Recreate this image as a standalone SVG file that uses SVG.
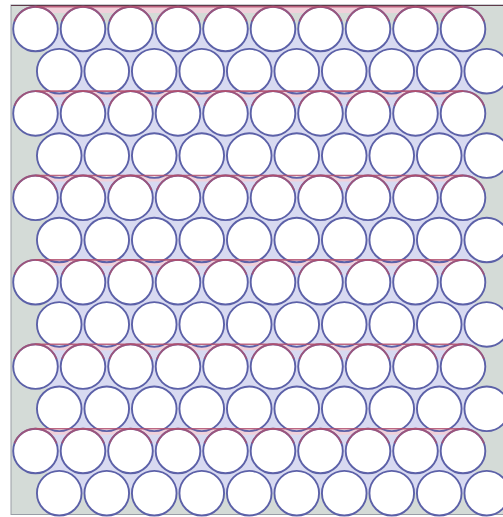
<svg xmlns="http://www.w3.org/2000/svg" xmlns:xlink="http://www.w3.org/1999/xlink" width="503" height="517" viewBox="0 0 503 517">
<style>
.bg{fill:#d4dbd7;stroke:#9a9ea6;stroke-width:1}
.gap{fill:#d8daf1}
.band{fill:#f0d0da}
.cir{fill:#ffffff;stroke:#5c61a8;stroke-width:1.9}
.arc{fill:none;stroke:#b0506e;stroke-width:1.9;stroke-opacity:0.75}
.red{stroke:#b24d6c;stroke-width:1.6;stroke-opacity:0.85}
</style>
<defs>
<circle id="c" r="22.3" class="cir"/>
<path id="a" d="M-20.95,-7.63 A22.3,22.3 0 0 1 20.95,-7.63" class="arc"/>
<g id="oddrow">
<use xlink:href="#c" x="0"/><use xlink:href="#c" x="47.5"/><use xlink:href="#c" x="95"/><use xlink:href="#c" x="142.5"/><use xlink:href="#c" x="190"/><use xlink:href="#c" x="237.5"/><use xlink:href="#c" x="285"/><use xlink:href="#c" x="332.5"/><use xlink:href="#c" x="380"/><use xlink:href="#c" x="427.5"/>
<use xlink:href="#a" x="0"/><use xlink:href="#a" x="47.5"/><use xlink:href="#a" x="95"/><use xlink:href="#a" x="142.5"/><use xlink:href="#a" x="190"/><use xlink:href="#a" x="237.5"/><use xlink:href="#a" x="285"/><use xlink:href="#a" x="332.5"/><use xlink:href="#a" x="380"/><use xlink:href="#a" x="427.5"/>
<line x1="0" y1="-22.3" x2="427.5" y2="-22.3" class="red"/>
</g>
<g id="evenrow">
<use xlink:href="#c" x="0"/><use xlink:href="#c" x="47.5"/><use xlink:href="#c" x="95"/><use xlink:href="#c" x="142.5"/><use xlink:href="#c" x="190"/><use xlink:href="#c" x="237.5"/><use xlink:href="#c" x="285"/><use xlink:href="#c" x="332.5"/><use xlink:href="#c" x="380"/><use xlink:href="#c" x="427.5"/>
</g>
<rect id="b" x="0" y="-22.3" width="427.5" height="6" class="band"/>
</defs>
<rect x="11" y="5" width="493" height="509.5" class="bg"/>
<line x1="11" y1="5.5" x2="503" y2="5.5" stroke="#5e3a4a" stroke-width="1.2"/>
<polygon class="gap" points="35.5,29 59.25,71.2 35.5,113.4 59.25,155.6 35.5,197.8 59.25,240 35.5,282.2 59.25,324.4 35.5,366.6 59.25,408.8 35.5,451 59.25,493.2 486.75,493.2 463,451 486.75,408.8 463,366.6 486.75,324.4 463,282.2 486.75,240 463,197.8 486.75,155.6 463,113.4 486.75,71.2 463,29"/>
<rect x="35.5" y="6" width="427.5" height="7" class="band"/>
<use xlink:href="#b" x="35.5" y="113.4"/>
<use xlink:href="#b" x="35.5" y="197.8"/>
<use xlink:href="#b" x="35.5" y="282.2"/>
<use xlink:href="#b" x="35.5" y="366.6"/>
<use xlink:href="#b" x="35.5" y="451"/>
<g id="row1"><use xlink:href="#oddrow" x="35.5" y="29"/></g>
<g id="row2"><use xlink:href="#evenrow" x="59.25" y="71.2"/></g>
<g id="row3"><use xlink:href="#oddrow" x="35.5" y="113.4"/></g>
<g id="row4"><use xlink:href="#evenrow" x="59.25" y="155.6"/></g>
<g id="row5"><use xlink:href="#oddrow" x="35.5" y="197.8"/></g>
<g id="row6"><use xlink:href="#evenrow" x="59.25" y="240"/></g>
<g id="row7"><use xlink:href="#oddrow" x="35.5" y="282.2"/></g>
<g id="row8"><use xlink:href="#evenrow" x="59.25" y="324.4"/></g>
<g id="row9"><use xlink:href="#oddrow" x="35.5" y="366.6"/></g>
<g id="row10"><use xlink:href="#evenrow" x="59.25" y="408.8"/></g>
<g id="row11"><use xlink:href="#oddrow" x="35.5" y="451"/></g>
<g id="row12"><use xlink:href="#evenrow" x="59.25" y="493.2"/></g>
</svg>
